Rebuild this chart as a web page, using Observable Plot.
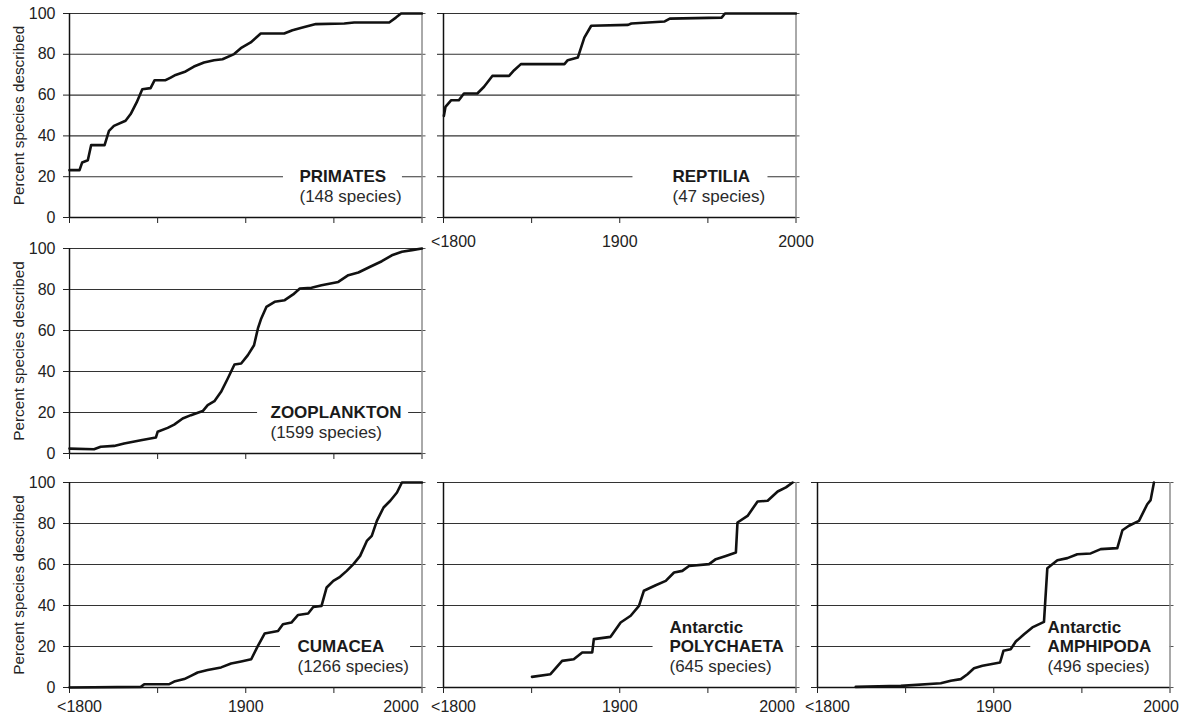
<!DOCTYPE html>
<html>
<head>
<meta charset="utf-8">
<script src="https://cdn.jsdelivr.net/npm/d3@7"></script>
<script src="https://cdn.jsdelivr.net/npm/@observablehq/plot@0.6"></script>
<style>
  html, body { margin: 0; padding: 0; background: #fff; }
  #chart { position: relative; width: 1182px; height: 717px; overflow: hidden; background: #fff;
           font-family: "Liberation Sans", Arial, sans-serif; }
</style>
</head>
<body>
<div id="chart"></div>
<script>
// ---------- tick values / labels ----------
const xTickYears = [1800, 1850, 1900, 1950, 2000];
const xLabelYears = [1800, 1900, 2000];
const xTickLabels = ["<1800", "1900", "2000"];
const yTicks = [0, 20, 40, 60, 80, 100];
const yAxisTitle = "Percent species described";

// ---------- groups ----------
const groupTitles = [["PRIMATES"], ["REPTILIA"], ["ZOOPLANKTON"], ["CUMACEA"], ["Antarctic", "POLYCHAETA"], ["Antarctic", "AMPHIPODA"]];
const speciesCounts = [148, 47, 1599, 1266, 645, 496];

// ---------- series (year, cumulative percent described) ----------
const primatesYear = [1800, 1805.7, 1807.2, 1810.4, 1812.3, 1819.9, 1822.4, 1825.2, 1831.8, 1834.7, 1838.1, 1841.3, 1846, 1848.3, 1854.5, 1857.4, 1860.2, 1865.9, 1870.6, 1876.3, 1882, 1886.8, 1893.4, 1897.2, 1902.8, 1908.5, 1921.8, 1926.5, 1932.2, 1939.8, 1955.9, 1961.5, 1981.4, 1985.2, 1988.1, 2000];
const primatesPct  = [23.2, 23.2, 27.0, 28.1, 35.5, 35.5, 42.5, 44.9, 47.4, 50.7, 56.4, 62.9, 63.4, 67.3, 67.3, 68.6, 69.9, 71.6, 74.0, 76.0, 77.1, 77.6, 80.1, 83.0, 85.8, 90.2, 90.2, 91.8, 93.1, 94.8, 95.1, 95.6, 95.6, 98.0, 100, 100];

const reptiliaYear = [1800.2, 1801.1, 1804.4, 1808.7, 1811.6, 1819.2, 1823, 1827.7, 1837.2, 1840.1, 1843.9, 1868.6, 1870.5, 1876.2, 1879.9, 1883.8, 1904.7, 1906.6, 1925.5, 1928.4, 1957.8, 1959.7, 2000];
const reptiliaPct  = [49.8, 54.2, 57.5, 57.5, 60.8, 60.8, 64.1, 69.4, 69.4, 72.2, 75.2, 75.2, 77.1, 78.4, 88.2, 94.0, 94.4, 95.1, 96.1, 97.5, 98.0, 100, 100];

const zooplanktonYear = [1800, 1813.9, 1817.7, 1825.3, 1831, 1840.5, 1849, 1850, 1855.7, 1859.4, 1864.2, 1868.9, 1875.6, 1878.4, 1882.2, 1886, 1889.8, 1893.6, 1897.4, 1901.2, 1904.7, 1906.9, 1908.8, 1911.7, 1916.4, 1922.1, 1926.9, 1930.7, 1937.3, 1943, 1952.5, 1958.2, 1963.9, 1970.6, 1977.2, 1982.9, 1988.6, 1994.3, 2000];
const zooplanktonPct  = [2.4, 2.1, 3.3, 3.7, 4.9, 6.5, 7.8, 10.6, 12.5, 14.1, 17.1, 18.7, 20.7, 23.6, 25.5, 30.1, 36.6, 43.4, 43.9, 48.0, 52.8, 61.0, 65.9, 71.5, 74.0, 74.8, 77.6, 80.5, 80.8, 82.1, 83.7, 87.0, 88.3, 91.1, 93.8, 96.7, 98.4, 99.2, 100];

const cumaceaYear = [1800, 1840.5, 1842.4, 1856.6, 1859.4, 1865.1, 1868.9, 1872.7, 1878.4, 1886, 1891.7, 1897.4, 1903.1, 1906.9, 1910.7, 1918.3, 1921.1, 1925.9, 1929.7, 1935.4, 1938.3, 1943, 1945.9, 1949.7, 1953.5, 1957.3, 1961.1, 1964.9, 1968.7, 1971.5, 1974.4, 1978.2, 1982, 1985.8, 1988.6, 2000];
const cumaceaPct  = [0, 0.3, 1.6, 1.6, 2.9, 4.1, 5.7, 7.3, 8.5, 9.8, 11.7, 12.7, 13.8, 20.3, 26.3, 27.6, 30.9, 31.7, 35.4, 36.1, 39.3, 39.8, 48.8, 52.0, 54.0, 56.9, 60.2, 64.2, 71.5, 74.0, 81.3, 87.8, 91.1, 95.1, 100, 100];

const polychaetaYear = [1850.2, 1860.7, 1867.3, 1873.9, 1878.7, 1884.4, 1885.3, 1894.8, 1900.5, 1906.2, 1910.9, 1913.7, 1920.4, 1926.1, 1930.8, 1935.5, 1939.3, 1950.7, 1954.5, 1960.2, 1965.9, 1966.8, 1972.5, 1978.2, 1983.9, 1989.6, 1994.3, 1998.1];
const polychaetaPct  = [5.2, 6.5, 13.0, 13.8, 17.1, 17.1, 23.6, 24.7, 31.7, 35.0, 39.8, 47.2, 49.9, 52.0, 56.1, 56.9, 59.3, 60.2, 62.6, 64.2, 65.9, 80.5, 83.7, 90.7, 91.1, 95.6, 97.6, 100];

const amphipodaYear = [1821.7, 1847.3, 1869.9, 1875.6, 1881.3, 1885.1, 1888.8, 1893.6, 1903.6, 1905.5, 1909.6, 1912.5, 1917.2, 1921.9, 1928.5, 1930.4, 1936.1, 1941.8, 1947.4, 1955, 1960.7, 1970.1, 1973, 1976.7, 1982.4, 1987.1, 1989, 1990.9];
const amphipodaPct  = [0.3, 0.8, 2.1, 3.3, 4.1, 6.5, 9.4, 10.6, 12.2, 17.9, 18.7, 22.4, 26.0, 29.3, 32.0, 58.2, 62.1, 63.1, 65.0, 65.4, 67.5, 68.0, 76.7, 78.9, 81.3, 89.4, 91.4, 100];

// ---------- layout (pixels / styles only) ----------
const rowTop = [12.7, 248.3, 481.7];
const rowHeight = [204, 205, 205];
const colLeft = [69, 442.5, 816.7];
const colWidth = 352.5;
const font = '"Liberation Sans", Arial, sans-serif';

const panels = [
  {g: 0, years: primatesYear,    pcts: primatesPct,    row: 0, col: 0, xText: false, labelDx: 230, box: [1921.4, 1988.9, 1.5, 29]},
  {g: 1, years: reptiliaYear,    pcts: reptiliaPct,    row: 0, col: 1, xText: true,  labelDx: 229, box: [1907.5, 1984.1, 1.5, 29], tickGap: 18, lastDx: 0},
  {g: 2, years: zooplanktonYear, pcts: zooplanktonPct, row: 1, col: 0, xText: false, labelDx: 201, box: [1906.7, 1992.4, 1.5, 29]},
  {g: 3, years: cumaceaYear,     pcts: cumaceaPct,     row: 2, col: 0, xText: true,  labelDx: 228, box: [1919.7, 1993.5, 1.5, 29], tickGap: 13, lastDx: -21},
  {g: 4, years: polychaetaYear,  pcts: polychaetaPct,  row: 2, col: 1, xText: true,  labelDx: 226, box: [1918.9, 2000, 1.5, 37], tickGap: 13, lastDx: -19},
  {g: 5, years: amphipodaYear,   pcts: amphipodaPct,   row: 2, col: 2, xText: true,  labelDx: 230, box: [1921, 2000, 1.5, 37], tickGap: 13, lastDx: -9}
];

const chart = document.getElementById("chart");
const labelFor = (d) => xTickLabels[xLabelYears.indexOf(d)];

for (const p of panels) {
  const data = p.years.map((year, i) => ({year, pct: p.pcts[i]}));
  const isLeft = p.col === 0;
  const mL = isLeft ? 69 : 30, mR = 25, mT = 10, mB = 40;
  const titles = groupTitles[p.g];
  const speciesDy = -16, step = 19.5;

  const marks = [
    Plot.gridY(yTicks.filter(d => d > 0), {stroke: "#333", strokeOpacity: 1, strokeWidth: 1.1}),
    Plot.rect([p.box], {x1: d => d[0], x2: d => d[1], y1: d => d[2], y2: d => d[3], fill: "white"}),
    Plot.ruleY([0], {stroke: "#111", strokeWidth: 1.5}),
    Plot.ruleX([1800], {stroke: "#111", strokeWidth: 1.5}),
    Plot.ruleX([2000], {stroke: "#555", strokeWidth: 1}),
    Plot.axisY({ticks: yTicks, tickSize: 6, tickPadding: 8, label: null, stroke: "#222",
      fill: isLeft ? "#222" : "none", fontSize: 16, fontFamily: font, tickFormat: d => String(d)}),
    Plot.axisY({anchor: "right", ticks: yTicks, tickSize: 3, label: null, stroke: "#555", fill: "none"}),
    Plot.axisX({ticks: xTickYears, tickSize: 6, label: null, stroke: "#222", fill: "none"}),
    Plot.line(data, {x: "year", y: "pct", stroke: "#111", strokeWidth: 2.6, strokeLinejoin: "round"})
  ];

  if (p.xText) {
    const dxs = [10, 0, p.lastDx];
    xLabelYears.forEach((yr, i) => {
      marks.push(Plot.axisX({ticks: [yr], tickSize: 0, tickPadding: p.tickGap, label: null,
        fill: "#222", fontSize: 16, fontFamily: font, dx: dxs[i], tickFormat: labelFor}));
    });
  }

  if (isLeft) {
    marks.push(Plot.text([yAxisTitle], {frameAnchor: "left", rotate: -90, dx: -50, text: d => d,
      fontSize: 15.3, fill: "#222", textAnchor: "middle", fontFamily: font}));
  }

  titles.forEach((t, i) => {
    const dy = speciesDy - step * (titles.length - i);
    marks.push(Plot.text([t], {frameAnchor: "bottom-left", dx: p.labelDx, dy, text: d => d,
      textAnchor: "start", fontWeight: "bold", fontSize: 17, fill: "#1a1a1a", fontFamily: font}));
  });
  marks.push(Plot.text([`(${speciesCounts[p.g]} species)`], {frameAnchor: "bottom-left", dx: p.labelDx, dy: speciesDy,
    text: d => d, textAnchor: "start", fontSize: 17, fill: "#2a2a2a", fontFamily: font}));

  const h = rowHeight[p.row];
  const svg = Plot.plot({
    width: mL + colWidth + mR,
    height: mT + h + mB,
    marginLeft: mL, marginRight: mR, marginTop: mT, marginBottom: mB,
    x: {domain: [1800, 2000]},
    y: {domain: [0, 100]},
    marks
  });
  svg.style.position = "absolute";
  svg.style.left = (colLeft[p.col] - mL) + "px";
  svg.style.top = (rowTop[p.row] - mT) + "px";
  svg.style.background = "transparent";
  svg.style.overflow = "visible";
  svg.style.maxWidth = "none";
  svg.style.fontFamily = font;
  chart.appendChild(svg);
}
</script>
</body>
</html>
